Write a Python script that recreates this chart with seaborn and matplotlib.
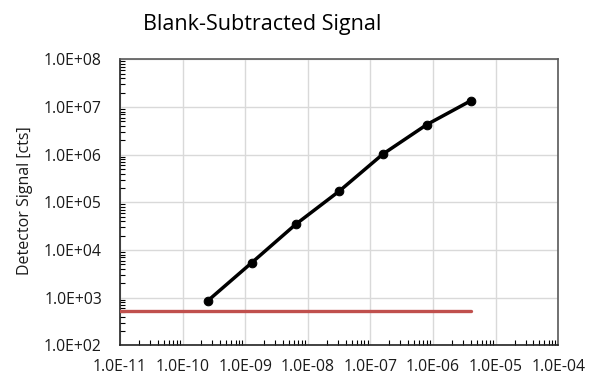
import matplotlib
matplotlib.use("Agg")
import matplotlib.pyplot as plt
import matplotlib.ticker as mticker
import seaborn as sns
import pandas as pd
import numpy as np

# Data
concentration = [2.5e-10, 1.27e-9, 6.4e-9, 3.2e-8, 1.57e-7, 7.9e-7, 4.0e-6]
signal = [850, 5.4e3, 3.45e4, 1.73e5, 1.02e6, 4.25e6, 1.35e7]
blank_x = [1e-11, 4.0e-6]
blank_level = [520, 520]

x_ticks = [1e-11, 1e-10, 1e-9, 1e-8, 1e-7, 1e-6, 1e-5, 1e-4]
x_tick_labels = ["1.0E-11", "1.0E-10", "1.0E-09", "1.0E-08", "1.0E-07", "1.0E-06", "1.0E-05", "1.0E-04"]
y_ticks = [1e2, 1e3, 1e4, 1e5, 1e6, 1e7, 1e8]
y_tick_labels = ["1.0E+02", "1.0E+03", "1.0E+04", "1.0E+05", "1.0E+06", "1.0E+07", "1.0E+08"]

sns.set_style("white")
plt.rcParams['font.family'] = ['Open Sans', 'DejaVu Sans']

W, H = 593, 379
fig = plt.figure(figsize=(W / 100, H / 100), dpi=100)
ax = fig.add_axes([120 / W, 1 - 345.3 / H, 438.3 / W, 286 / H])

df = pd.DataFrame({"x": concentration, "y": signal})
df_blank = pd.DataFrame({"x": blank_x, "y": blank_level})

sns.lineplot(data=df_blank, x="x", y="y", ax=ax, color="#c0504d", linewidth=2.4, zorder=3)
sns.lineplot(data=df, x="x", y="y", ax=ax, color="black", linewidth=2.5,
             marker="o", markersize=6.2, markeredgecolor="black", zorder=4)

ax.set_xscale("log")
ax.set_yscale("log")
ax.set_xlim(1e-11, 1e-4)
ax.set_ylim(1e2, 1e8)

ax.set_xticks(x_ticks)
ax.set_xticklabels(x_tick_labels)
ax.set_yticks(y_ticks)
ax.set_yticklabels(y_tick_labels)
ax.xaxis.set_minor_locator(mticker.LogLocator(base=10, subs=np.arange(2, 10), numticks=100))
ax.yaxis.set_minor_locator(mticker.LogLocator(base=10, subs=np.arange(2, 10), numticks=100))
ax.xaxis.set_minor_formatter(mticker.NullFormatter())
ax.yaxis.set_minor_formatter(mticker.NullFormatter())

ax.grid(True, which="major", color="#d9d9d9", linewidth=1.0)
ax.set_axisbelow(True)

ax.tick_params(axis="both", which="major", direction="in", length=0, labelsize=11.3,
               colors="#1a1a1a")
ax.tick_params(axis="x", which="major", pad=10)
ax.tick_params(axis="y", which="major", pad=13)
ax.tick_params(axis="both", which="minor", direction="in", length=3.5, width=0.8,
               color="black", left=True, bottom=True)

for side in ["left", "bottom"]:
    ax.spines[side].set_color("#222222")
    ax.spines[side].set_linewidth(1.2)
for side in ["top", "right"]:
    ax.spines[side].set_color("#595959")
    ax.spines[side].set_linewidth(1.2)
    ax.spines[side].set_visible(True)

ax.set_xlabel("")
ax.set_ylabel("")
fig.text(25 / W, 1 - 201 / H, "Detector Signal [cts]", rotation=90, fontsize=11.5,
         color="#1a1a1a", ha="center", va="center")
fig.text(262 / W, 1 - 30 / H, "Blank-Subtracted Signal", fontsize=15.5,
         color="black", ha="center", va="baseline")

fig.savefig("out.png", dpi=100)
